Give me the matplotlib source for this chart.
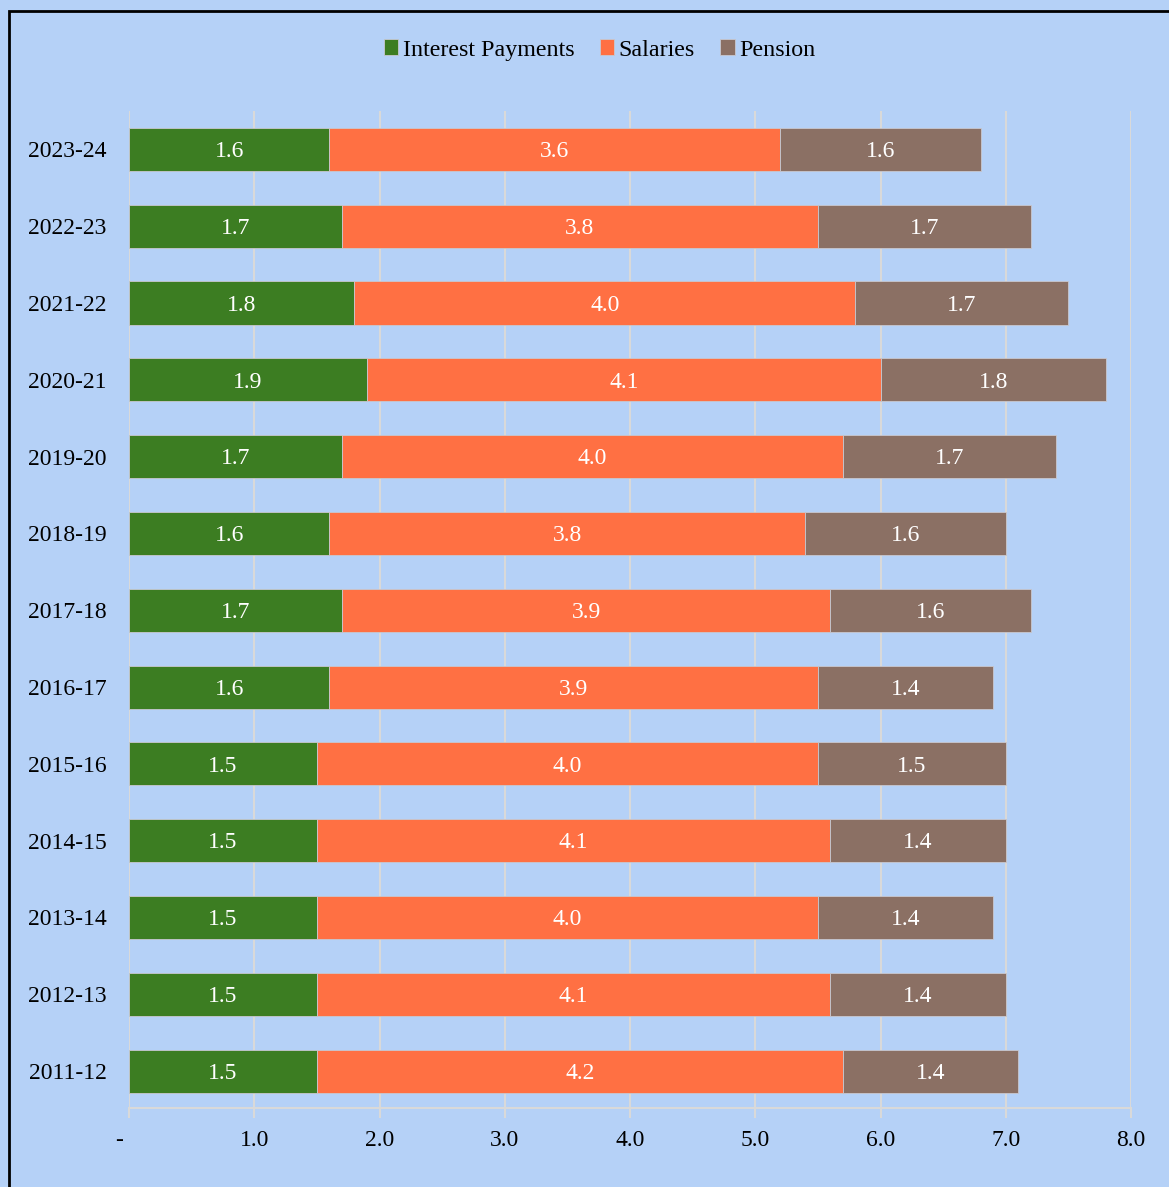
import numpy as np
import matplotlib.pyplot as plt
from matplotlib.patches import Rectangle

years = ["2011-12", "2012-13", "2013-14", "2014-15", "2015-16", "2016-17", "2017-18",
         "2018-19", "2019-20", "2020-21", "2021-22", "2022-23", "2023-24"]
interest = [1.5, 1.5, 1.5, 1.5, 1.5, 1.6, 1.7, 1.6, 1.7, 1.9, 1.8, 1.7, 1.6]
salaries = [4.2, 4.1, 4.0, 4.1, 4.0, 3.9, 3.9, 3.8, 4.0, 4.1, 4.0, 3.8, 3.6]
pension = [1.4, 1.4, 1.4, 1.4, 1.5, 1.4, 1.6, 1.6, 1.7, 1.8, 1.7, 1.7, 1.6]
xticks = [0, 1, 2, 3, 4, 5, 6, 7, 8]
xlabels = ["-   ", "1.0", "2.0", "3.0", "4.0", "5.0", "6.0", "7.0", "8.0"]

bg = "#b5d1f7"
grid_c = "#d9d9d9"
plt.rcParams['font.family'] = ['Liberation Serif', 'DejaVu Serif']

fig = plt.figure(figsize=(11.69, 11.87), dpi=100, facecolor=bg)
ax = fig.add_axes([0.1104, 0.0666, 0.8571, 0.8399])
ax.set_facecolor(bg)

# outer frame, open on right and bottom (clipped by the image edge)
fig.patches.append(Rectangle((9 / 1169, -0.05), 1.2, 1 - 11 / 1187 + 0.05,
                             transform=fig.transFigure, fill=False,
                             edgecolor="black", linewidth=2, zorder=0))

y = np.arange(len(years))
h = 0.56
series = [("Interest Payments", interest, "#3c7d22"),
          ("Salaries", salaries, "#ff7043"),
          ("Pension", pension, "#8b7064")]
left = np.zeros(len(years))
for name, vals, col in series:
    vals = np.array(vals)
    bars = ax.barh(y, vals, left=left, height=h, color=col, label=name,
                   edgecolor="#c8c8d0", linewidth=0.6, zorder=3)
    for b, v in zip(bars, vals):
        ax.text(b.get_x() + b.get_width() / 2, b.get_y() + b.get_height() / 2 - 0.03,
                f"{v:.1f}", ha="center", va="center", color="white",
                fontsize=17, zorder=4)
    left = left + vals

ax.set_xlim(0, 8)
ax.set_ylim(-0.48, 12.5)
ax.set_xticks(xticks)
ax.set_xticklabels(xlabels, fontsize=17)
ax.set_yticks(y)
ax.set_yticklabels(years, fontsize=17)
ax.tick_params(axis="y", length=0, pad=16)
ax.tick_params(axis="x", length=7, color=grid_c, width=1.5, pad=9)
ax.grid(axis="x", color=grid_c, linewidth=1.5, zorder=0)
for s in ["top", "right", "left"]:
    ax.spines[s].set_visible(False)
ax.spines["bottom"].set_color(grid_c)
ax.spines["bottom"].set_linewidth(1.5)

fig.legend(loc="center", bbox_to_anchor=(0.513, 1 - 50 / 1187), ncol=3,
           frameon=False, fontsize=17.3, handlelength=0.6, handleheight=0.6,
           handletextpad=0.2, columnspacing=1.05)

fig.savefig("out.png", dpi=100, facecolor=bg)
